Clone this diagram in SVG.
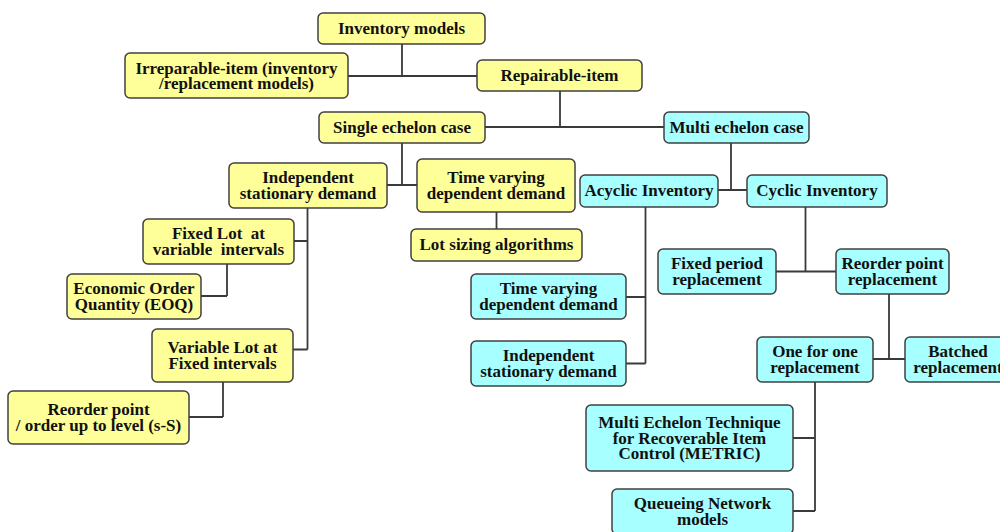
<svg xmlns="http://www.w3.org/2000/svg" width="1000" height="532" viewBox="0 0 1000 532">
<style>
.y{fill:#ffff99;stroke:#404040;stroke-width:1.5}
.c{fill:#a8ffff;stroke:#404040;stroke-width:1.5}
text{font-family:"Liberation Serif","Times New Roman",serif;font-weight:bold;font-size:17px;fill:#111;text-anchor:middle}
.ln{fill:none;stroke:#3a3a3a;stroke-width:1.8}
</style>
<rect width="1000" height="532" fill="#ffffff"/>
<g id="connectors" class="ln">
<path d="M402,44 V76 M348,76 H477"/>
<path d="M560,91 V127 M485,127 H664"/>
<path d="M402,143 V185 M387,185 H417"/>
<path d="M496.5,212 V229"/>
<path d="M731,143 V190 M718,190 H747"/>
<path d="M307.5,208 V349.5 M294,241 H307.5 M293,349.5 H307.5"/>
<path d="M227,264 V296 M201,296 H227"/>
<path d="M223,382 V417 M189,417 H223"/>
<path d="M645.5,207 V363.5 M626,297 H645.5 M626,363.5 H645.5"/>
<path d="M805.5,207 V271.5 M776,271.5 H836"/>
<path d="M889,294 V359 M873,359 H905"/>
<path d="M815,382 V511 M793,438 H815 M793,511 H815"/>
</g>
<g id="n-inventory"><rect class="y" x="318" y="13" width="167" height="31" rx="5"/><text x="401.5" y="33.5">Inventory models</text></g>
<g id="n-irreparable"><rect class="y" x="125" y="53" width="223" height="45" rx="5"/><text x="236.5" y="73.5">Irreparable-item (inventory</text><text x="236.5" y="89">/replacement models)</text></g>
<g id="n-repairable"><rect class="y" x="477" y="60" width="165" height="31" rx="5"/><text x="559.5" y="80.5">Repairable-item</text></g>
<g id="n-single"><rect class="y" x="319" y="112" width="166" height="31" rx="5"/><text x="402" y="132.5">Single echelon case</text></g>
<g id="n-multi"><rect class="c" x="664" y="112" width="145" height="31" rx="5"/><text x="736.5" y="132.5">Multi echelon case</text></g>
<g id="n-indep-y"><rect class="y" x="229" y="163" width="158" height="45" rx="5"/><text x="308" y="183">Independent</text><text x="308" y="198.5">stationary demand</text></g>
<g id="n-tvdd-y"><rect class="y" x="417" y="159" width="158" height="53" rx="5"/><text x="496" y="183">Time varying</text><text x="496" y="198.5">dependent demand</text></g>
<g id="n-lotsizing"><rect class="y" x="411" y="229" width="171" height="32" rx="5"/><text x="496.5" y="250">Lot sizing algorithms</text></g>
<g id="n-acyclic"><rect class="c" x="580" y="175" width="138" height="32" rx="5"/><text x="649" y="196">Acyclic Inventory</text></g>
<g id="n-cyclic"><rect class="c" x="747" y="175" width="140" height="32" rx="5"/><text x="817" y="196">Cyclic Inventory</text></g>
<g id="n-fixedlot"><rect class="y" x="143" y="219" width="151" height="45" rx="5"/><text x="218.5" y="239" xml:space="preserve">Fixed Lot  at</text><text x="218.5" y="254.5" xml:space="preserve">variable  intervals</text></g>
<g id="n-eoq"><rect class="y" x="67" y="274" width="134" height="45" rx="5"/><text x="134" y="294">Economic Order</text><text x="134" y="309.5">Quantity (EOQ)</text></g>
<g id="n-varlot"><rect class="y" x="152" y="329" width="141" height="53" rx="5"/><text x="222.5" y="353">Variable Lot at</text><text x="222.5" y="368.5">Fixed intervals</text></g>
<g id="n-reorder-ss"><rect class="y" x="8" y="391" width="181" height="53" rx="5"/><text x="98.5" y="415">Reorder point</text><text x="98.5" y="430.5">/ order up to level (s-S)</text></g>
<g id="n-tvdd-c"><rect class="c" x="471" y="274" width="155" height="45" rx="5"/><text x="548.5" y="294">Time varying</text><text x="548.5" y="309.5">dependent demand</text></g>
<g id="n-indep-c"><rect class="c" x="471" y="341" width="155" height="45" rx="5"/><text x="548.5" y="361">Independent</text><text x="548.5" y="376.5">stationary demand</text></g>
<g id="n-fixedperiod"><rect class="c" x="658" y="249" width="118" height="45" rx="5"/><text x="717" y="269">Fixed period</text><text x="717" y="284.5">replacement</text></g>
<g id="n-reorder-rep"><rect class="c" x="836" y="249" width="113" height="45" rx="5"/><text x="892.5" y="269">Reorder point</text><text x="892.5" y="284.5">replacement</text></g>
<g id="n-onefor"><rect class="c" x="757" y="337" width="116" height="45" rx="5"/><text x="815" y="357">One for one</text><text x="815" y="372.5">replacement</text></g>
<g id="n-batched"><rect class="c" x="905" y="337" width="106" height="45" rx="5"/><text x="958" y="357">Batched</text><text x="958" y="372.5">replacement</text></g>
<g id="n-metric"><rect class="c" x="586" y="405" width="207" height="66" rx="5"/><text x="689.5" y="428">Multi Echelon Technique</text><text x="689.5" y="443.5">for Recoverable Item</text><text x="689.5" y="459">Control (METRIC)</text></g>
<g id="n-queue"><rect class="c" x="612" y="489" width="181" height="45" rx="5"/><text x="702.5" y="509">Queueing Network</text><text x="702.5" y="524.5">models</text></g>
</svg>
